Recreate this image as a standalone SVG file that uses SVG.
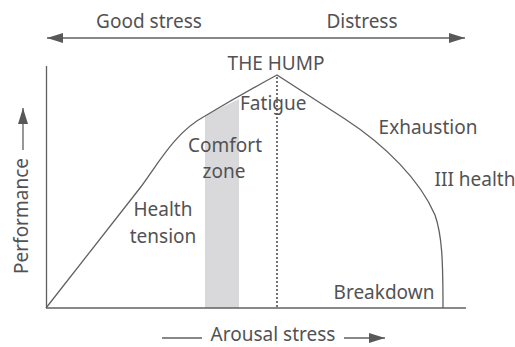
<svg xmlns="http://www.w3.org/2000/svg" width="515" height="347" viewBox="0 0 515 347">
<style>
.t{font-family:"Noto Sans","Open Sans",sans-serif;font-size:19px;fill:#525254;text-anchor:middle}
.ln{fill:none;stroke:#606062;stroke-width:1.3}
</style>
<defs>
<marker id="ah" markerWidth="16" markerHeight="10" refX="16" refY="5" orient="auto-start-reverse" markerUnits="userSpaceOnUse">
<path d="M0,0 L16,5 L0,10 Z" fill="#58585a"/>
</marker>
</defs>
<rect width="515" height="347" fill="#fff"/>
<g id="comfort-band">
<path d="M205,116 Q222,107 239,99 L239,308 L205,308 Z" fill="#d9d9db"/>
</g>
<g id="connectors">
<line class="ln" x1="47" y1="38" x2="465" y2="38" marker-start="url(#ah)" marker-end="url(#ah)"/>
<line class="ln" x1="46.5" y1="66" x2="46.5" y2="308"/>
<line class="ln" x1="46" y1="308" x2="466" y2="308"/>
<line class="ln" x1="23" y1="150" x2="23" y2="108" marker-end="url(#ah)"/>
<line class="ln" x1="162" y1="338" x2="202" y2="338"/>
<line class="ln" x1="344" y1="338" x2="385" y2="338" marker-end="url(#ah)"/>
<path class="ln" d="M46,308 L140,188 C158,164 175,132 205,116 Q240,95 277,75 L345,119 C385,145 420,180 435,215 C442,235 443,260 443,308"/>
<line x1="277" y1="78" x2="277" y2="308" stroke="#444" stroke-width="2" stroke-linecap="round" stroke-dasharray="0 4"/>
</g>
<g id="labels">
<text class="t" x="149" y="28">Good stress</text>
<text class="t" x="362" y="28">Distress</text>
<text class="t" x="276" y="70">THE HUMP</text>
<text class="t" x="240" y="110" style="text-anchor:start">Fatigue</text>
<text class="t" x="225" y="152">Comfort</text>
<text class="t" x="224" y="178">zone</text>
<text class="t" x="163" y="216">Health</text>
<text class="t" x="163" y="243">tension</text>
<text class="t" x="428" y="134">Exhaustion</text>
<text class="t" x="475" y="186">III health</text>
<text class="t" x="384" y="299">Breakdown</text>
<text class="t" x="273" y="341">Arousal stress</text>
<text class="t" transform="translate(28,216) rotate(-90)">Performance</text>
</g>
</svg>
